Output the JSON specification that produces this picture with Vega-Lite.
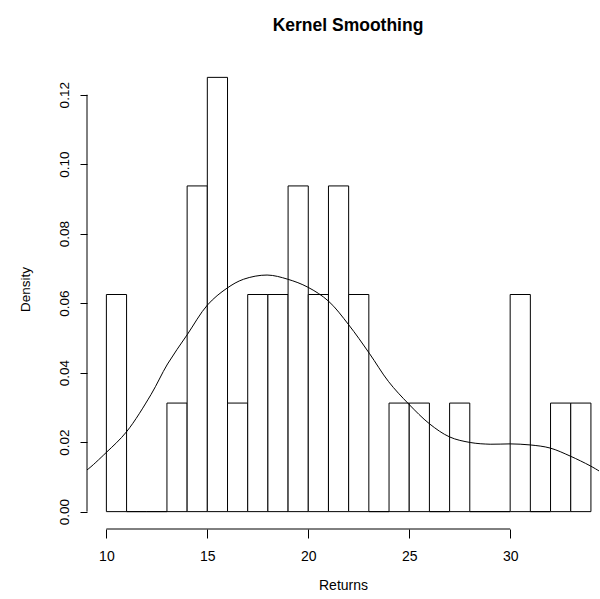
{
  "$schema": "https://vega.github.io/schema/vega-lite/v6.json",
  "width": 512,
  "height": 469,
  "autosize": {"type": "none"},
  "padding": {"left": 87, "top": 60, "right": 1, "bottom": 70},
  "background": "white",
  "config": {"view": {"stroke": null}, "font": "Liberation Sans"},
  "title": {"text": "Kernel Smoothing", "fontSize": 17.5, "fontWeight": "bold", "font": "Liberation Sans", "color": "black", "anchor": "middle", "baseline": "alphabetic", "offset": 12, "dx": 5},
  "datasets": {
    "bins": [
      {"lo": 10, "hi": 11, "d": 0.0625},
      {"lo": 11, "hi": 12, "d": 0},
      {"lo": 12, "hi": 13, "d": 0},
      {"lo": 13, "hi": 14, "d": 0.03125},
      {"lo": 14, "hi": 15, "d": 0.09375},
      {"lo": 15, "hi": 16, "d": 0.125},
      {"lo": 16, "hi": 17, "d": 0.03125},
      {"lo": 17, "hi": 18, "d": 0.0625},
      {"lo": 18, "hi": 19, "d": 0.0625},
      {"lo": 19, "hi": 20, "d": 0.09375},
      {"lo": 20, "hi": 21, "d": 0.0625},
      {"lo": 21, "hi": 22, "d": 0.09375},
      {"lo": 22, "hi": 23, "d": 0.0625},
      {"lo": 23, "hi": 24, "d": 0},
      {"lo": 24, "hi": 25, "d": 0.03125},
      {"lo": 25, "hi": 26, "d": 0.03125},
      {"lo": 26, "hi": 27, "d": 0},
      {"lo": 27, "hi": 28, "d": 0.03125},
      {"lo": 28, "hi": 29, "d": 0},
      {"lo": 29, "hi": 30, "d": 0},
      {"lo": 30, "hi": 31, "d": 0.0625},
      {"lo": 31, "hi": 32, "d": 0},
      {"lo": 32, "hi": 33, "d": 0.03125},
      {"lo": 33, "hi": 34, "d": 0.03125}
    ],
    "kde": [
      {"x": 8.8, "y": 0.0112},
      {"x": 9.04, "y": 0.0120},
      {"x": 9.99, "y": 0.0170},
      {"x": 11.0, "y": 0.0230},
      {"x": 12.21, "y": 0.0337},
      {"x": 13.03, "y": 0.0425},
      {"x": 14.0, "y": 0.0509},
      {"x": 15.01, "y": 0.0595},
      {"x": 15.97, "y": 0.0643},
      {"x": 16.8, "y": 0.0669},
      {"x": 17.96, "y": 0.0681},
      {"x": 18.98, "y": 0.0669},
      {"x": 19.98, "y": 0.0646},
      {"x": 21.0, "y": 0.0606},
      {"x": 22.0, "y": 0.0538},
      {"x": 23.02, "y": 0.0456},
      {"x": 23.98, "y": 0.0374},
      {"x": 24.97, "y": 0.0310},
      {"x": 26.0, "y": 0.0253},
      {"x": 27.0, "y": 0.0215},
      {"x": 28.02, "y": 0.0199},
      {"x": 29.01, "y": 0.0194},
      {"x": 30.0, "y": 0.0195},
      {"x": 30.99, "y": 0.0192},
      {"x": 31.98, "y": 0.0183},
      {"x": 32.97, "y": 0.0160},
      {"x": 33.96, "y": 0.0132},
      {"x": 34.46, "y": 0.0115},
      {"x": 34.8, "y": 0.0102}
    ],
    "yline": [{"x": 9.04, "y": 0, "y2": 0.12}],
    "xline": [{"x": 10, "x2": 30, "y": -0.005}]
  },
  "layer": [
    {
      "data": {"name": "bins"},
      "mark": {"type": "rect", "fill": "white", "stroke": "black", "strokeWidth": 1},
      "encoding": {
        "x": {"field": "lo", "type": "quantitative", "title": "Returns",
              "scale": {"domain": [9.04, 34.4], "nice": false, "zero": false},
              "axis": {"values": [10, 15, 20, 25, 30], "domain": false, "grid": false, "tickSize": 9, "tickColor": "black", "tickWidth": 1,
                       "labelFont": "Liberation Sans", "labelFontSize": 14, "labelColor": "black", "labelPadding": 11,
                       "titleFont": "Liberation Sans", "titleFontSize": 14, "titleFontWeight": "normal", "titleColor": "black",
                       "titleBaseline": "middle", "titleY": 56, "titleAnchor": "middle"}},
        "x2": {"field": "hi"},
        "y": {"field": "d", "type": "quantitative", "title": "Density",
              "scale": {"domain": [-0.005, 0.13], "nice": false, "zero": false},
              "axis": {"values": [0, 0.02, 0.04, 0.06, 0.08, 0.1, 0.12], "format": ".2f", "domain": false, "grid": false, "tickSize": 7, "tickColor": "black", "tickWidth": 1,
                       "labelFont": "Liberation Sans", "labelFontSize": 13.5, "labelColor": "black", "labelAngle": -90, "labelAlign": "center", "labelBaseline": "bottom", "labelPadding": 9,
                       "titleFont": "Liberation Sans", "titleFontSize": 13.5, "titleFontWeight": "normal", "titleColor": "black",
                       "titleAngle": -90, "titleAlign": "center", "titleBaseline": "middle", "titleX": -62, "titleY": 229}},
        "y2": {"datum": 0}
      }
    },
    {
      "data": {"name": "kde"},
      "mark": {"type": "line", "color": "black", "strokeWidth": 1, "interpolate": "catmull-rom", "clip": true},
      "encoding": {
        "x": {"field": "x", "type": "quantitative", "title": "Returns"},
        "y": {"field": "y", "type": "quantitative", "title": "Density"}
      }
    },
    {
      "data": {"name": "yline"},
      "mark": {"type": "rule", "color": "black", "strokeWidth": 1},
      "encoding": {
        "x": {"field": "x", "type": "quantitative", "title": "Returns"},
        "y": {"field": "y", "type": "quantitative", "title": "Density"},
        "y2": {"field": "y2"}
      }
    },
    {
      "data": {"name": "xline"},
      "mark": {"type": "rule", "color": "black", "strokeWidth": 1},
      "encoding": {
        "x": {"field": "x", "type": "quantitative", "title": "Returns"},
        "x2": {"field": "x2"},
        "y": {"field": "y", "type": "quantitative", "title": "Density"}
      }
    }
  ]
}
